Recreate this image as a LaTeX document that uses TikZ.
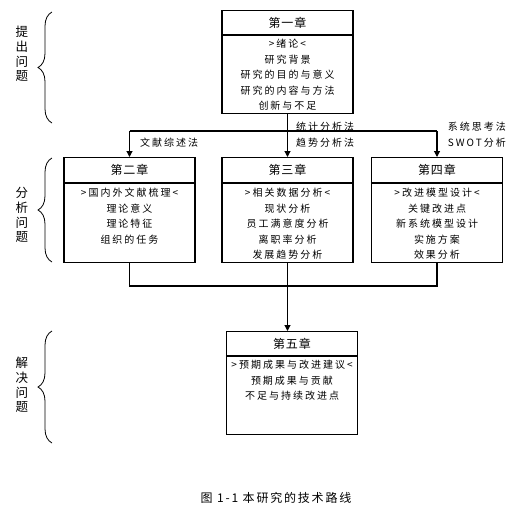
\documentclass[tikz,border=0pt]{standalone}
\usepackage{fontspec}
\newfontfamily\cjk{Noto Sans CJK SC}[LetterSpace=20]
\newfontfamily\cjkh{Noto Sans CJK SC}[LetterSpace=8]
\newfontfamily\cjks{Noto Sans CJK SC}
\newfontfamily\cjkc{Noto Sans CJK SC}[LetterSpace=15]
\usetikzlibrary{decorations.pathreplacing,arrows.meta}
\begin{document}
\begin{tikzpicture}[x=1pt,y=-1pt,
  chap/.style={draw, line width=1.3pt, minimum width=131pt, inner sep=0pt, anchor=north},
  body/.style={font=\fontsize{10}{15.5}\selectfont\cjk, align=center, anchor=north, inner sep=0pt},
  head/.style={font=\fontsize{12}{14}\selectfont\cjkh, inner sep=0pt},
  lbl/.style={font=\fontsize{10}{16}\selectfont\cjk, inner sep=0pt},
  arr/.style={line width=1.1pt, -{Triangle[length=6pt,width=6pt]}},
  conn/.style={line width=1.1pt},
  side/.style={font=\fontsize{12.5}{14.7}\selectfont\cjks, align=center, inner sep=0pt},
  brc/.style={decorate, decoration={brace, amplitude=14pt}, line width=0.8pt}]
\useasboundingbox (0,0) rectangle (509,517);

% chapter boxes
\node[chap, minimum height=103pt] (c1) at (287.5,10) {};
\node[chap, minimum height=105pt] (c2) at (129.5,157) {};
\node[chap, minimum height=105pt] (c3) at (287.5,157) {};
\node[chap, minimum height=105pt] (c4) at (437,157) {};
\node[chap, minimum height=103pt] (c5) at (292,331) {};

\foreach \c/\d in {c1/25,c2/26,c3/26,c4/26,c5/25}{
  \draw[line width=1.3pt] ([yshift=-\d pt]\c.north west) -- ([yshift=-\d pt]\c.north east);
}

\node[head] (h1) at ([yshift=-12.5pt]c1.north) {第一章};
\node[head] (h2) at ([yshift=-13pt]c2.north) {第二章};
\node[head] (h3) at ([yshift=-13pt]c3.north) {第三章};
\node[head] (h4) at ([yshift=-13pt]c4.north) {第四章};
\node[head] (h5) at ([yshift=-12.5pt]c5.north) {第五章};

\node[body] (b1) at ([yshift=-29pt]c1.north) {>绪论<\\研究背景\\研究的目的与意义\\研究的内容与方法\\创新与不足};
\node[body] (b2) at ([yshift=-31pt]c2.north) {>国内外文献梳理<\\理论意义\\理论特征\\组织的任务};
\node[body] (b3) at ([yshift=-31pt]c3.north) {>相关数据分析<\\现状分析\\员工满意度分析\\离职率分析\\发展趋势分析};
\node[body] (b4) at ([yshift=-31pt]c4.north) {>改进模型设计<\\关键改进点\\新系统模型设计\\实施方案\\效果分析};
\node[body] (b5) at ([yshift=-29pt]c5.north) {>预期成果与改进建议<\\预期成果与贡献\\不足与持续改进点};

% upper bus
\coordinate (bus) at (0,131);
\draw[conn] (c2.north |- bus) -- (c4.north |- bus);
\draw[arr] (c1.south) -- (c3.north);
\draw[arr] (c2.north |- bus) -- (c2.north);
\draw[arr] (c4.north |- bus) -- (c4.north);

\node[lbl, anchor=west] (l1) at (140,143) {文献综述法};
\node[lbl, anchor=west, align=left] (l2) at (296,135) {统计分析法\\趋势分析法};
\node[lbl, anchor=east, align=right] (l3) at (506,135) {系统思考法\\SWOT分析};

% lower bus
\coordinate (bus2) at (0,286);
\draw[conn] (c2.south) -- (c2.south |- bus2) -- (c4.south |- bus2) -- (c4.south);
\draw[arr] (c3.south) -- (c3.south |- c5.north);

% braces and side labels
\draw[brc] (52,123) -- (52,12);
\draw[brc] (52,262) -- (52,158);
\draw[brc] (52,443) -- (52,331);
\node[side] (s1) at (22,54) {提\\出\\问\\题};
\node[side] (s2) at (22,215) {分\\析\\问\\题};
\node[side] (s3) at (22,385) {解\\决\\问\\题};

% caption
\node[font=\fontsize{12}{14}\selectfont\cjkc, inner sep=0pt] (cap) at (276,498) {图 1-1 本研究的技术路线};
\end{tikzpicture}
\end{document}
